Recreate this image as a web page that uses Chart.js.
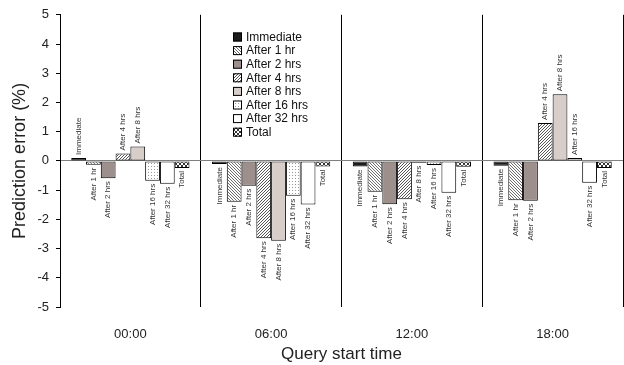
<!DOCTYPE html>
<html>
<head>
<meta charset="utf-8">
<script src="https://cdn.jsdelivr.net/npm/chart.js@4/dist/chart.umd.min.js"></script>
<style>
  html, body { margin: 0; padding: 0; background: #fff; }
  #wrap { width: 624px; height: 365px; }
</style>
</head>
<body>
<div id="wrap"><canvas id="chart" width="624" height="365"></canvas></div>
<script>
// values (prediction error, %)
const categories = ['00:00', '06:00', '12:00', '18:00'];
const seriesNames = ['Immediate', 'After 1 hr', 'After 2 hrs', 'After 4 hrs',
                     'After 8 hrs', 'After 16 hrs', 'After 32 hrs', 'Total'];
const immediate = [0.10, -0.11, -0.19, -0.17];
const after1 = [-0.13, -1.40, -1.06, -1.35];
const after2 = [-0.59, -0.85, -1.48, -1.36];
const after4 = [0.25, -2.65, -1.31, 1.30];
const after8 = [0.49, -2.73, -0.06, 2.28];
const after16 = [-0.68, -1.19, -0.14, 0.10];
const after32 = [-0.78, -1.49, -1.09, -0.75];
const total = [-0.24, -0.19, -0.20, -0.24];
const yTicks = [-5, -4, -3, -2, -1, 0, 1, 2, 3, 4, 5];

const FONT = '"Liberation Sans", Arial, sans-serif';

// small tiles for the hatched fills
function makePattern(kind) {
    const s = kind === 'cross' ? 4 : 3;
    const c = document.createElement('canvas');
    c.width = s; c.height = s;
    const g = c.getContext('2d');
    g.fillStyle = '#fff';
    g.fillRect(0, 0, s, s);
    if (kind === 'back') {
        g.fillStyle = '#6e6e6e';
        for (let i = 0; i < s; i++) g.fillRect(i, i, 1, 1);
    } else if (kind === 'fwd') {
        g.fillStyle = '#555';
        for (let i = 0; i < s; i++) g.fillRect(s - 1 - i, i, 1, 1);
    } else if (kind === 'dots') {
        g.fillStyle = '#999';
        g.fillRect(1, 1, 1, 1);
    } else if (kind === 'cross') {
        g.fillStyle = '#333';
        for (let i = 0; i < s; i++) {
            g.fillRect(i, i, 1, 1);
            g.fillRect(s - 1 - i, i, 1, 1);
        }
    }
    return document.getElementById('chart').getContext('2d').createPattern(c, 'repeat');
}

const fills = [
    '#1c1c1c',
    makePattern('back'),
    '#9d8f8c',
    makePattern('fwd'),
    '#d7cdc9',
    makePattern('dots'),
    '#ffffff',
    makePattern('cross')
];
const seriesData = [immediate, after1, after2, after4, after8, after16, after32, total];

// labels written along each bar end, plus the legend box inside the plot
const barLabels = {
    id: 'barLabels',
    afterDatasetsDraw(chart) {
        const ctx = chart.ctx;
        ctx.save();
        ctx.font = '8px ' + FONT;
        ctx.fillStyle = '#333';
        ctx.textBaseline = 'middle';
        chart.data.datasets.forEach((ds, di) => {
            const meta = chart.getDatasetMeta(di);
            meta.data.forEach((bar, i) => {
                const v = ds.data[i];
                ctx.save();
                ctx.translate(bar.x, v >= 0 ? bar.y - 3 : bar.y + 3);
                ctx.rotate(-Math.PI / 2);
                ctx.textAlign = v >= 0 ? 'left' : 'right';
                ctx.fillText(ds.label, 0, 0);
                ctx.restore();
            });
        });

        // legend
        const lx = 233, ly = 37, step = 13.6;
        ctx.font = '12px ' + FONT;
        ctx.textAlign = 'left';
        chart.data.datasets.forEach((ds, di) => {
            const y = ly + di * step;
            ctx.fillStyle = ds.backgroundColor;
            ctx.fillRect(lx, y - 4.5, 9, 9);
            ctx.strokeStyle = '#000';
            ctx.lineWidth = 1;
            ctx.strokeRect(lx + 0.5, y - 4, 8, 8);
            ctx.fillStyle = '#111';
            ctx.fillText(ds.label, lx + 13, y + 0.5);
        });
        ctx.restore();
    }
};

new Chart(document.getElementById('chart').getContext('2d'), {
    type: 'bar',
    data: {
        labels: categories,
        datasets: seriesNames.map((name, i) => ({
            label: name,
            data: seriesData[i],
            backgroundColor: fills[i],
            borderColor: '#000',
            borderWidth: 1,
            borderSkipped: false,
            categoryPercentage: 0.84,
            barPercentage: 1.0
        }))
    },
    options: {
        responsive: false,
        animation: false,
        layout: { padding: { top: 12, right: 1, left: 0, bottom: 0 } },
        plugins: {
            legend: { display: false },
            tooltip: { enabled: false }
        },
        scales: {
            x: {
                grid: {
                    offset: true,
                    color: '#000',
                    lineWidth: 1,
                    drawTicks: false
                },
                border: { display: false },
                ticks: {
                    color: '#222',
                    font: { family: FONT, size: 13 },
                    padding: 20
                },
                title: {
                    display: true,
                    text: 'Query start time',
                    color: '#222',
                    font: { family: FONT, size: 17 },
                    padding: { top: 2, bottom: 0 }
                },
                afterFit(scale) { scale.height = 58; }
            },
            y: {
                min: -5,
                max: 5,
                afterBuildTicks(scale) {
                    scale.ticks = yTicks.map(v => ({ value: v }));
                },
                grid: {
                    color: c => (c.tick && c.tick.value === 0 ? '#808080' : 'rgba(0,0,0,0)'),
                    tickColor: '#000',
                    tickLength: 4,
                    lineWidth: 1
                },
                border: { display: true, color: '#000', width: 1 },
                ticks: {
                    color: '#222',
                    font: { family: FONT, size: 13 },
                    padding: 7
                },
                title: {
                    display: true,
                    text: 'Prediction error (%)',
                    color: '#222',
                    font: { family: FONT, size: 18 },
                    padding: { top: 9, bottom: 0 }
                },
                afterFit(scale) { scale.width = 60; }
            }
        }
    },
    plugins: [barLabels]
});
</script>
</body>
</html>
